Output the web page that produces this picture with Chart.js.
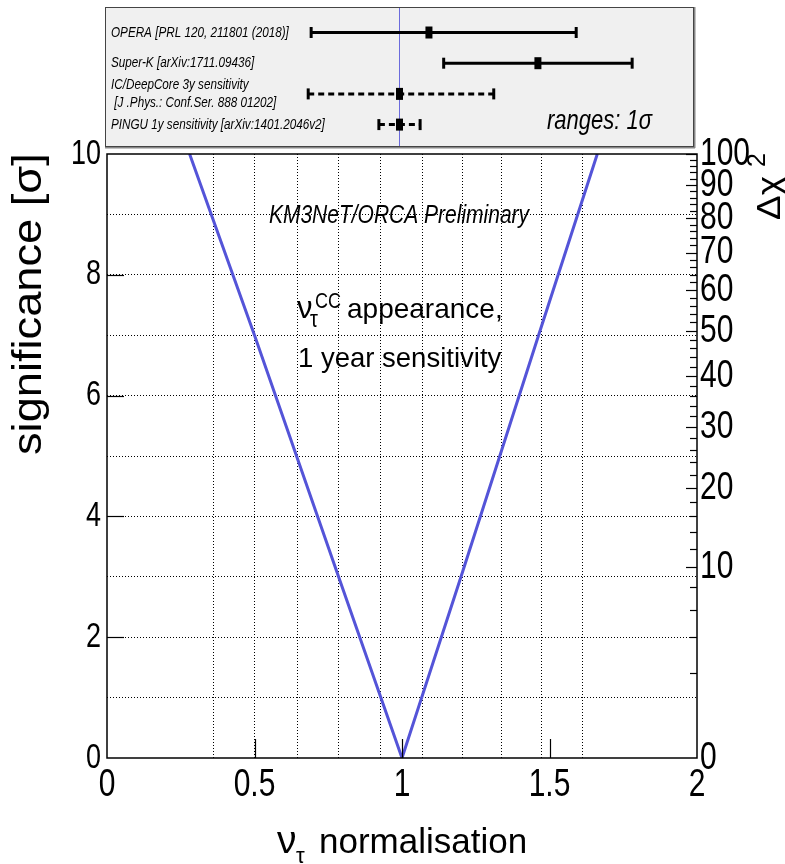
<!DOCTYPE html>
<html><head><meta charset="utf-8">
<script src="https://cdn.jsdelivr.net/npm/chart.js@4.4.0/dist/chart.umd.min.js"></script>
<style>
html,body{margin:0;padding:0;background:#fff;}
#wrap{position:relative;width:785px;height:864px;overflow:hidden;}
#main{position:absolute;left:0;top:0;width:785px;height:864px;}
#top{position:absolute;left:0;top:0;width:785px;height:160px;}
</style></head><body>
<div id="wrap"><canvas id="main" width="785" height="864"></canvas><canvas id="top" width="785" height="160"></canvas></div>
<script>
// ---------------- DATA ----------------
// main curve: significance vs nu_tau normalisation
const normValues   = [0.28, 0.50, 0.785, 1.00, 1.20, 1.463, 1.662];
const significance = [10,   7,    3,     0,    3,    7,     10];
// axis ticks
const xTickValues     = [0, 0.5, 1, 1.5, 2];
const xInnerTicks     = [0.5, 1, 1.5];
const sigmaTickValues = [0,1,2,3,4,5,6,7,8,9,10];
const sigmaLabelled   = [0,2,4,6,8,10];
const chi2Labels      = [0,10,20,30,40,50,60,70,80,90,100];
const chi2Minor       = [2,4,6,8,12,14,16,18,22,24,26,28,32,34,36,38,42,44,46,48,52,54,56,58,62,64,66,68,72,74,76,78,82,84,86,88,92,94,96,98];
const gridNorm        = [0.36,0.50,0.645,0.786,0.928,1.071,1.205,1.338,1.474,1.613];
// top panel: experiments (1 sigma ranges)
const experiments   = ['OPERA [PRL 120, 211801 (2018)]','Super-K [arXiv:1711.09436]',['IC/DeepCore 3y sensitivity',' [J .Phys.: Conf.Ser. 888 01202]'],'PINGU 1y sensitivity [arXiv:1401.2046v2]'];
const centralValues = [1.10, 1.47, 1.00, 1.00];
const lowerValues   = [0.70, 1.15, 0.69, 0.93];
const upperValues   = [1.60, 1.79, 1.32, 1.07];
const isSensitivity = [false, false, true, true];
const referenceValue = 1;

// ---------------- FONTS / TEXT ----------------
const SANS = "'Liberation Sans', Arial, sans-serif";
// vertical stretch of text, keyed by font pixel size (the reference text is drawn tall)
function patchText(canvas, map){
  const c = canvas.getContext('2d');
  const orig = c.fillText;
  c.__syMap = map; c.__override = null;
  c.fillText = function(t, x, y, mw){
    const m = /([\d.]+)px/.exec(this.font);
    const k = (this.__override != null) ? this.__override : ((m && this.__syMap[m[1]]) || 1);
    if (k === 1) return orig.apply(this, arguments);
    this.save(); this.translate(x, y); this.scale(1, k);
    if (mw === undefined) orig.call(this, t, 0, 0); else orig.call(this, t, 0, 0, mw);
    this.restore();
  };
}
patchText(document.getElementById('main'), {'27':1.3, '30':1.3});
patchText(document.getElementById('top'), {'11.7':1.25});

function txt(ctx, s, x, y, font, opts){
  opts = opts || {};
  ctx.save();
  ctx.__override = 1;
  ctx.translate(x, y);
  if (opts.rot) ctx.rotate(opts.rot);
  ctx.scale(opts.sx || 1, opts.sy || 1);
  ctx.font = font;
  ctx.fillStyle = '#000';
  ctx.textAlign = opts.align || 'left';
  ctx.textBaseline = 'alphabetic';
  ctx.fillText(s, 0, 0);
  const w = ctx.measureText(s).width * (opts.sx || 1);
  ctx.__override = null;
  ctx.restore();
  return w;
}
function seg(ctx,x1,y1,x2,y2){ctx.beginPath();ctx.moveTo(x1,y1);ctx.lineTo(x2,y2);ctx.stroke();}

// ---------------- MAIN CHART ----------------
const mainDecor = {
  id:'mainDecor',
  afterDraw(chart){
    const {ctx, chartArea:a, scales} = chart;
    ctx.save();
    ctx.strokeStyle='#000'; ctx.lineWidth=1.5;
    ctx.strokeRect(a.left, a.top, a.right-a.left, a.bottom-a.top);
    ctx.lineWidth=1.2;
    xInnerTicks.forEach(v=>{const px=Math.round(scales.x.getPixelForValue(v))+0.5; seg(ctx,px,a.bottom,px,a.bottom-19);});
    sigmaLabelled.forEach(v=>{ if(v===0||v===10) return; const py=Math.round(scales.y.getPixelForValue(v))+0.5; seg(ctx,a.left,py,a.left+17,py);});
    chi2Labels.forEach(v=>{ if(v===0) return; const py=Math.round(scales.y2.getPixelForValue(Math.sqrt(v)))+0.5; seg(ctx,a.right,py,a.right-11,py);});
    chi2Minor.forEach(v=>{ const py=Math.round(scales.y2.getPixelForValue(Math.sqrt(v)))+0.5; seg(ctx,a.right,py,a.right-7,py);});
    ctx.restore();
    // annotations
    txt(ctx,'KM3NeT/ORCA Preliminary',399,223,'italic 21px '+SANS,{align:'center',sy:1.25});
    txt(ctx,'\u03bd',297,318,'31px '+SANS);
    txt(ctx,'\u03c4',310,327,'20px '+SANS,{sy:1.15});
    txt(ctx,'CC',315,308,'18px '+SANS,{sy:1.2});
    txt(ctx,'appearance,',347,318,'28px '+SANS);
    txt(ctx,'1 year sensitivity',298,367,'27.5px '+SANS);
    // axis titles
    txt(ctx,'significance [\u03c3]',41,455,'40px '+SANS,{rot:-Math.PI/2,sx:1.13});
    txt(ctx,'\u03bd',277,853,'39px '+SANS);
    txt(ctx,'\u03c4',296,863,'22px '+SANS);
    txt(ctx,'normalisation',319,853,'35px '+SANS);
    // right title  Δχ²
    txt(ctx,'\u0394\u03c7',780,220,'33px '+SANS,{rot:-Math.PI/2,sx:1.12});
    txt(ctx,'2',765,167,'25px '+SANS,{rot:-Math.PI/2});
  }
};

new Chart(document.getElementById('main'), {
  type:'scatter',
  data:{datasets:[{
    data: normValues.map((x,i)=>({x, y:significance[i]})),
    showLine:true, borderColor:'#5454d8', borderWidth:3, pointRadius:0, tension:0, fill:false
  }]},
  options:{
    responsive:false, animation:false, events:[],
    layout:{autoPadding:false,padding:{top:154,left:0,right:0,bottom:0}},
    plugins:{legend:{display:false},tooltip:{enabled:false},title:{display:false}},
    scales:{
      x:{type:'linear',position:'bottom',min:0,max:2,
        afterBuildTicks:s=>{s.ticks=xTickValues.map(v=>({value:v}));},
        ticks:{autoSkip:false,maxRotation:0,padding:9,color:'#000',font:{family:SANS,size:30},callback:v=>String(v)},
        grid:{display:false,drawTicks:false},border:{display:false},
        afterFit:s=>{s.height=106;}},
      xg:{type:'linear',position:'bottom',min:0,max:2,
        afterBuildTicks:s=>{s.ticks=gridNorm.map(v=>({value:v}));},
        ticks:{display:false},
        grid:{color:'#000',lineWidth:1,drawTicks:false},border:{display:false,dash:[1,2]},
        afterFit:s=>{s.height=0;}},
      y:{type:'linear',position:'left',min:0,max:10,
        afterBuildTicks:s=>{s.ticks=sigmaTickValues.map(v=>({value:v}));},
        ticks:{autoSkip:false,padding:6,color:'#000',font:{family:SANS,size:27},callback:v=>sigmaLabelled.includes(v)?String(v):''},
        grid:{color:c=>(c.tick&&(c.tick.value===0||c.tick.value===10))?'rgba(0,0,0,0)':'#000',lineWidth:1,drawTicks:false},
        border:{display:false,dash:[1,2]},
        afterFit:s=>{s.width=107;}},
      y2:{type:'linear',position:'right',min:0,max:10,
        afterBuildTicks:s=>{s.ticks=chi2Labels.map(v=>({value:Math.sqrt(v)}));},
        ticks:{autoSkip:false,padding:3,color:'#000',font:{family:SANS,size:30},callback:(v,i)=>String(chi2Labels[i])},
        grid:{display:false,drawTicks:false},border:{display:false},
        afterFit:s=>{s.width=88;}}
    }
  },
  plugins:[mainDecor]
});

// ---------------- TOP PANEL ----------------
const topDecor = {
  id:'topDecor',
  beforeDraw(chart){
    const {ctx, chartArea:a}=chart;
    ctx.save(); ctx.fillStyle='#f0f0f0'; ctx.fillRect(a.left,a.top,a.right-a.left,a.bottom-a.top); ctx.restore();
  },
  afterDraw(chart){
    const {ctx, chartArea:a}=chart;
    ctx.save();
    ctx.strokeStyle='#444'; ctx.lineWidth=1;
    ctx.strokeRect(a.left+0.5,a.top+0.5,a.right-a.left-1,a.bottom-a.top-1);
    ctx.strokeStyle='#888'; ctx.lineWidth=1.5;
    seg(ctx,a.left,a.bottom+0.75,a.right+1,a.bottom+0.75);
    seg(ctx,a.right+0.75,a.top,a.right+0.75,a.bottom+1);
    ctx.restore();
    txt(ctx,'ranges: 1\u03c3',547,129,'italic 22px '+SANS,{sy:1.25});
  }
};
const yMinTop=-0.831, yMaxTop=3.73;
const topDatasets=[];
experiments.forEach((lab,i)=>{
  topDatasets.push({
    data:[{x:lowerValues[i],y:i},{x:upperValues[i],y:i}],
    showLine:true, borderColor:'#000', borderWidth:3, borderDash:isSensitivity[i]?[6,4]:[],
    pointStyle:'line', rotation:90, pointRadius:5.5, pointBorderWidth:3, pointBorderColor:'#000', pointBackgroundColor:'#000', order:1
  });
  topDatasets.push({
    data:[{x:centralValues[i],y:i}],
    pointStyle:'line', rotation:90, pointRadius:6, pointBorderWidth:7, pointBorderColor:'#000', pointBackgroundColor:'#000', order:0
  });
});
topDatasets.push({
  data:[{x:referenceValue,y:yMinTop},{x:referenceValue,y:yMaxTop}],
  showLine:true, borderColor:'#6b6bdc', borderWidth:1, pointRadius:0, order:10
});
new Chart(document.getElementById('top'), {
  type:'scatter',
  data:{datasets:topDatasets},
  options:{
    responsive:false, animation:false, events:[],
    layout:{autoPadding:false,padding:{left:105,right:91,top:7,bottom:13}},
    plugins:{legend:{display:false},tooltip:{enabled:false}},
    scales:{
      x:{type:'linear',min:0,max:2,display:false},
      y:{type:'linear',position:'left',reverse:true,min:yMinTop,max:yMaxTop,
        afterBuildTicks:s=>{s.ticks=experiments.map((_,i)=>({value:i}));},
        ticks:{mirror:true,padding:6,autoSkip:false,color:'#000',font:{family:SANS,size:11.7,style:'italic',lineHeight:1.54},callback:(v,i)=>experiments[i]},
        grid:{display:false,drawTicks:false},border:{display:false},
        afterFit:s=>{s.width=0; s.paddingTop=0; s.paddingBottom=0;}}
    }
  },
  plugins:[topDecor]
});
</script>
</body></html>
